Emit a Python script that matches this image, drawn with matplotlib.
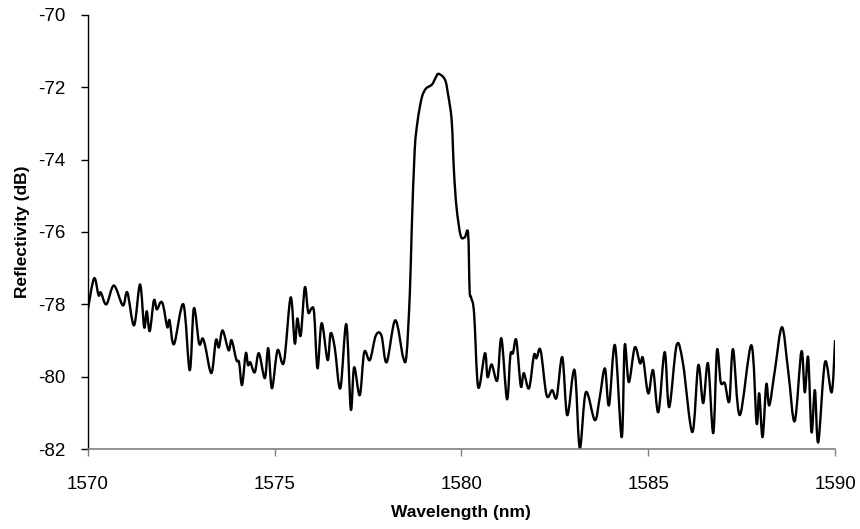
import matplotlib
matplotlib.use('Agg')
import matplotlib.pyplot as plt
import numpy as np
from matplotlib.path import Path
from matplotlib.patches import PathPatch

plt.rcParams['font.family'] = ['Liberation Sans', 'DejaVu Sans']
plt.rcParams['axes.unicode_minus'] = False

# wavelength (nm) and reflectivity (dB)
wavelength = [
    1570.00, 1570.17, 1570.29, 1570.35, 1570.50, 1570.70, 1570.94, 1571.06, 1571.24, 1571.40,
    1571.51, 1571.58, 1571.66, 1571.77, 1571.85, 1571.95, 1572.02, 1572.13, 1572.19, 1572.31,
    1572.56, 1572.73, 1572.84, 1572.98, 1573.07, 1573.14, 1573.31, 1573.43, 1573.51, 1573.61,
    1573.77, 1573.85, 1573.98, 1574.05, 1574.13, 1574.23, 1574.29, 1574.35, 1574.47, 1574.58,
    1574.74, 1574.83, 1574.93, 1575.08, 1575.25, 1575.43, 1575.54, 1575.61, 1575.70, 1575.81,
    1575.90, 1575.99, 1576.06, 1576.15, 1576.26, 1576.42, 1576.50, 1576.61, 1576.76, 1576.92,
    1577.04, 1577.13, 1577.28, 1577.40, 1577.55, 1577.71, 1577.86, 1578.00, 1578.23, 1578.44,
    1578.53, 1578.62, 1578.67, 1578.75, 1578.83, 1578.94, 1579.05, 1579.21, 1579.31, 1579.39,
    1579.56, 1579.64, 1579.74, 1579.80, 1579.87, 1579.98, 1580.09, 1580.18, 1580.22, 1580.26,
    1580.34, 1580.45, 1580.63, 1580.70, 1580.81, 1580.96, 1581.07, 1581.22, 1581.31, 1581.38,
    1581.47, 1581.59, 1581.67, 1581.81, 1581.94, 1582.01, 1582.12, 1582.28, 1582.43, 1582.55,
    1582.70, 1582.83, 1582.99, 1583.06, 1583.17, 1583.33, 1583.57, 1583.70, 1583.84, 1583.95,
    1584.11, 1584.29, 1584.37, 1584.48, 1584.64, 1584.78, 1584.86, 1585.00, 1585.13, 1585.27,
    1585.44, 1585.56, 1585.76, 1585.93, 1586.18, 1586.34, 1586.47, 1586.60, 1586.74, 1586.84,
    1586.94, 1587.05, 1587.17, 1587.27, 1587.45, 1587.76, 1587.90, 1587.97, 1588.06, 1588.16,
    1588.24, 1588.39, 1588.58, 1588.75, 1588.92, 1589.10, 1589.19, 1589.28, 1589.37, 1589.46,
    1589.55, 1589.73, 1589.91, 1590.00,
]
reflectivity = [
    -78.17, -77.28, -77.75, -77.67, -78.00, -77.48, -78.03, -77.67, -78.58, -77.45,
    -78.63, -78.19, -78.74, -77.89, -78.14, -77.94, -78.03, -78.63, -78.44, -79.10,
    -78.00, -79.82, -78.11, -79.08, -78.94, -79.13, -79.90, -78.99, -79.19, -78.72,
    -79.27, -78.99, -79.54, -79.60, -80.23, -79.35, -79.68, -79.60, -79.88, -79.35,
    -80.04, -79.21, -80.32, -79.27, -79.60, -77.81, -79.08, -78.39, -78.86, -77.53,
    -78.22, -78.11, -78.25, -79.77, -78.52, -79.54, -78.80, -79.19, -80.32, -78.55,
    -80.90, -79.74, -80.51, -79.32, -79.54, -78.86, -78.86, -79.60, -78.44, -79.46,
    -79.41, -77.70, -75.96, -73.75, -72.92, -72.29, -72.04, -71.93, -71.74, -71.63,
    -71.79, -72.18, -72.92, -74.30, -75.32, -76.10, -76.15, -76.04, -77.61, -77.81,
    -78.25, -80.29, -79.35, -80.01, -79.66, -80.10, -78.94, -80.62, -79.41, -79.35,
    -78.99, -80.26, -79.90, -80.32, -79.41, -79.49, -79.27, -80.51, -80.37, -80.57,
    -79.46, -81.06, -79.90, -80.10, -81.97, -80.43, -81.20, -80.59, -79.77, -80.79,
    -79.13, -81.67, -79.13, -80.15, -79.19, -79.63, -79.49, -80.46, -79.82, -80.98,
    -79.32, -80.84, -79.13, -79.63, -81.53, -79.68, -80.73, -79.63, -81.56, -79.27,
    -80.15, -80.18, -80.68, -79.24, -81.06, -79.13, -81.28, -80.46, -81.67, -80.21,
    -80.79, -79.82, -78.63, -79.88, -81.23, -79.30, -80.43, -79.46, -81.53, -80.37,
    -81.81, -79.60, -80.43, -78.99,
]

fig = plt.figure(figsize=(8.6, 5.29), dpi=100)
ax = fig.add_axes([0.102, 0.151, 0.869, 0.821])

# smoothed line like the spreadsheet one: cubic bezier through the points
pts = np.column_stack([wavelength, reflectivity])
verts = [pts[0]]
codes = [Path.MOVETO]
n = len(pts)
for i in range(n - 1):
    p0 = pts[max(i - 1, 0)]
    p1 = pts[i]
    p2 = pts[i + 1]
    p3 = pts[min(i + 2, n - 1)]
    verts += [p1 + (p2 - p0) / 6.0, p2 - (p3 - p1) / 6.0, p2]
    codes += [Path.CURVE4] * 3
ax.add_patch(PathPatch(Path(verts, codes), fill=False, edgecolor='black',
                       lw=1.7, joinstyle='round', clip_on=True))

ax.set_xlim(1570, 1590)
ax.set_ylim(-82, -70)
ax.set_xticks([1570, 1575, 1580, 1585, 1590])
ax.set_yticks([-82, -80, -78, -76, -74, -72, -70])

ax.spines['right'].set_color('none')
ax.spines['top'].set_color('none')
ax.spines['left'].set_color('black')
ax.spines['bottom'].set_color('#808080')
ax.spines['left'].set_linewidth(1.0)
ax.spines['bottom'].set_linewidth(1.2)

ax.tick_params(axis='y', direction='out', length=5, width=1, labelsize=13.5, pad=11)
ax.tick_params(axis='x', direction='out', length=5, width=1, color='#808080',
               labelsize=13.5, pad=14)

ax.set_xlabel('Wavelength (nm)', fontsize=12.5, fontweight='bold', labelpad=9)
ax.set_ylabel('Reflectivity (dB)', fontsize=12.5, fontweight='bold', labelpad=6)

fig.savefig('out.png', dpi=100)
